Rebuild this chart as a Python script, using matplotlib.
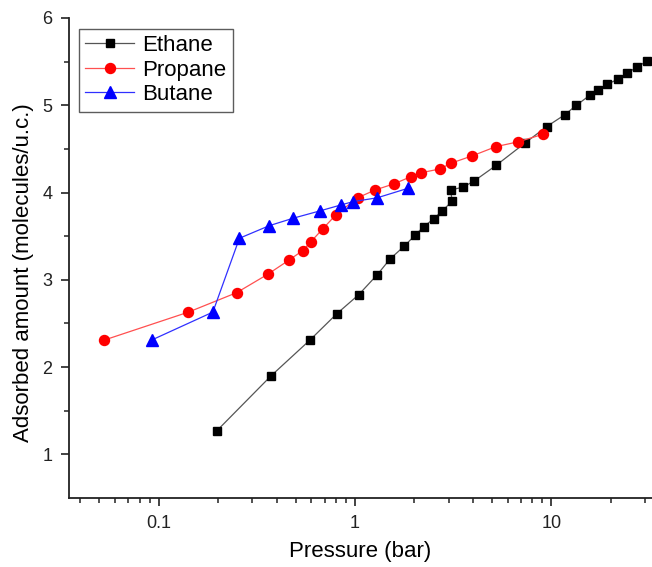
import matplotlib
matplotlib.use("Agg")
import matplotlib.pyplot as plt
from matplotlib.ticker import LogLocator, FixedLocator, NullFormatter, FuncFormatter

plt.rcParams['font.family'] = ['Liberation Sans', 'DejaVu Sans']

# Adsorption isotherms (pressure in bar, loading in molecules per unit cell)
ethane_p = [0.198, 0.374, 0.590, 0.807, 1.045, 1.30, 1.51, 1.78, 2.02, 2.24,
            2.52, 2.77, 3.12, 3.07, 3.53, 4.03, 5.22, 7.36, 9.45, 11.67,
            13.4, 15.8, 17.3, 19.2, 21.9, 24.3, 27.2, 30.8]
ethane_n = [1.27, 1.90, 2.31, 2.61, 2.83, 3.06, 3.24, 3.385, 3.51, 3.61,
            3.70, 3.786, 3.90, 4.03, 4.06, 4.13, 4.31, 4.57, 4.755, 4.89,
            5.00, 5.12, 5.18, 5.24, 5.30, 5.37, 5.435, 5.51]

propane_p = [0.053, 0.142, 0.250, 0.360, 0.463, 0.542, 0.595, 0.685, 0.798,
             1.03, 1.27, 1.58, 1.92, 2.18, 2.71, 3.08, 3.95, 5.22, 6.74, 9.08]
propane_n = [2.31, 2.63, 2.853, 3.064, 3.228, 3.335, 3.434, 3.583, 3.743,
             3.94, 4.03, 4.10, 4.18, 4.228, 4.27, 4.336, 4.42, 4.526, 4.58, 4.668]

butane_p = [0.0923, 0.189, 0.258, 0.366, 0.485, 0.664, 0.849, 0.98, 1.30, 1.87]
butane_n = [2.31, 2.63, 3.476, 3.62, 3.706, 3.79, 3.858, 3.896, 3.94, 4.05]

fig = plt.figure(figsize=(6.52, 5.67), dpi=100)
ax = fig.add_axes([0.1058, 0.1217, 0.8942, 0.8466])

ax.plot(ethane_p, ethane_n, color='#555555', lw=0.9, marker='s', ms=6.3,
        mfc='black', mec='black', label='Ethane')
ax.plot(propane_p, propane_n, color='#ff5050', lw=0.9, marker='o', ms=7.2,
        mfc='red', mec='red', label='Propane')
ax.plot(butane_p, butane_n, color='#3030ff', lw=0.9, marker='^', ms=8.2,
        mfc='blue', mec='blue', label='Butane')

ax.set_xscale('log')
ax.set_xlim(0.035, 32.5)
ax.set_ylim(0.5, 6.0)

ax.xaxis.set_major_locator(FixedLocator([0.1, 1, 10]))
ax.xaxis.set_major_formatter(FuncFormatter(lambda v, p: {0.1: '0.1', 1: '1', 10: '10'}.get(round(v, 3), '')))
ax.xaxis.set_minor_locator(LogLocator(base=10, subs=range(2, 10), numticks=20))
ax.xaxis.set_minor_formatter(NullFormatter())
ax.yaxis.set_major_locator(FixedLocator([1, 2, 3, 4, 5, 6]))
ax.yaxis.set_minor_locator(FixedLocator([1.5, 2.5, 3.5, 4.5, 5.5]))

for s in ('top', 'right'):
    ax.spines[s].set_visible(False)
for s in ('left', 'bottom'):
    ax.spines[s].set_linewidth(1.3)
    ax.spines[s].set_color('#222222')

ax.tick_params(which='major', direction='out', length=6, width=1.2,
               labelsize=13, colors='#222222', pad=6)
ax.tick_params(which='minor', direction='out', length=3.5, width=1.1,
               colors='#222222')

ax.set_xlabel('Pressure (bar)', fontsize=16, labelpad=7)
ax.set_ylabel('Adsorbed amount (molecules/u.c.)', fontsize=16)
ax.yaxis.set_label_coords(-0.060, 0.469)

leg = ax.legend(loc='upper left', bbox_to_anchor=(0.0165, 0.978), fontsize=16,
                frameon=True, fancybox=False, edgecolor='#333333',
                handlelength=2.2, borderpad=0.3, labelspacing=0.15,
                handletextpad=0.35, borderaxespad=0.0)
leg.get_frame().set_linewidth(1.0)

fig.savefig('out.png', dpi=100)
